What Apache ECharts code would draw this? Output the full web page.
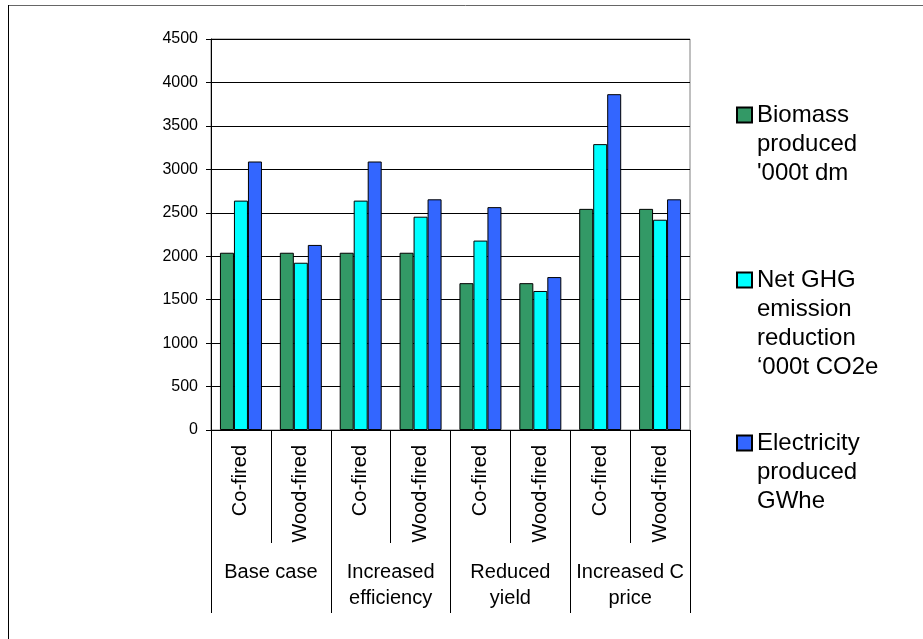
<!DOCTYPE html>
<html>
<head>
<meta charset="utf-8">
<script src="https://cdn.jsdelivr.net/npm/echarts@6/dist/echarts.min.js"></script>
<style>
  html, body { margin: 0; padding: 0; background: #fff; }
  #chart { width: 923px; height: 639px; }
</style>
</head>
<body>
<div id="chart"></div>
<script>
// Plant type under each scenario (inner axis level)
const plantTypes = ['Co-fired', 'Wood-fired', 'Co-fired', 'Wood-fired',
                    'Co-fired', 'Wood-fired', 'Co-fired', 'Wood-fired'];
// Scenarios (outer axis level, two plant types each)
const scenarios = ['Base case', 'Increased\nefficiency', 'Reduced\nyield', 'Increased C\nprice'];

// Series values per plant type / scenario
const biomass      = [2040, 2040, 2040, 2040, 1690, 1690, 2545, 2545];
const ghgReduction = [2640, 1925, 2640, 2455, 2180, 1600, 3290, 2420];
const electricity  = [3090, 2130, 3090, 2655, 2565, 1760, 3865, 2655];

const seriesNames = [
  "Biomass\nproduced\n'000t dm",
  "Net GHG\nemission\nreduction\n\u2018000t CO2e",
  "Electricity\nproduced\nGWhe"
];
const seriesColors = ['#339966', '#00FFFF', '#3366FF'];

// Value axis range
const yMin = 0, yMax = 4500, yStep = 500;

const FONT = "'Liberation Sans', Arial, sans-serif";
const LEGEND_LINE = 29;

const chart = echarts.init(document.getElementById('chart'), null, { renderer: 'canvas' });

// One legend block per series so each can sit at its own height.
// Blank lines are prepended to each label so the icon (centred on the
// text block) lines up with the first line of the label.
const firstLineY = [115, 280, 443];
const legends = seriesNames.map((name, i) => {
  const lines = name.split('\n').length;
  return {
    data: [name],
    formatter: n => '\n'.repeat(lines - 1) + n,
    left: 736,
    top: firstLineY[i] - (lines - 0.5) * LEGEND_LINE,
    padding: 0,
    orient: 'vertical',
    icon: 'rect',
    itemWidth: 15,
    itemHeight: 15,
    itemGap: 0,
    selectedMode: false,
    textStyle: {
      fontFamily: FONT,
      fontSize: 24,
      lineHeight: LEGEND_LINE,
      color: '#000'
    }
  };
});

const values = [biomass, ghgReduction, electricity];

chart.setOption({
  animation: false,
  backgroundColor: '#fff',
  textStyle: { fontFamily: FONT },
  grid: {
    left: 211, right: 233, top: 39, bottom: 209,
    show: true, borderColor: '#808080', borderWidth: 1,
    backgroundColor: 'transparent'
  },
  legend: legends,
  xAxis: [
    {
      type: 'category',
      data: plantTypes,
      position: 'bottom',
      axisLine: { show: true, lineStyle: { color: '#000', width: 1 } },
      axisTick: { show: true, interval: 0, length: 113, lineStyle: { color: '#000', width: 1 } },
      axisLabel: {
        interval: 0, rotate: 90, margin: 15,
        fontFamily: FONT, fontSize: 20, color: '#000'
      },
      splitLine: { show: false }
    },
    {
      type: 'category',
      data: scenarios,
      position: 'bottom',
      axisLine: { show: false },
      axisTick: { show: true, interval: 0, length: 183, lineStyle: { color: '#000', width: 1 } },
      axisLabel: {
        interval: 0, margin: 129,
        fontFamily: FONT, fontSize: 20, lineHeight: 26, color: '#000'
      },
      splitLine: { show: false }
    }
  ],
  yAxis: {
    type: 'value',
    min: yMin, max: yMax, interval: yStep,
    axisLine: { show: true, lineStyle: { color: '#000', width: 1 } },
    axisTick: { show: true, length: 5, lineStyle: { color: '#000' } },
    axisLabel: {
      margin: 13, fontFamily: FONT, fontSize: 16, color: '#000',
      formatter: v => String(v)
    },
    splitLine: { show: true, lineStyle: { color: '#000', width: 1 } }
  },
  series: seriesNames.map((name, i) => ({
    name: name,
    type: 'bar',
    xAxisIndex: 0,
    data: values[i],
    barWidth: 14,
    barGap: '0%',
    itemStyle: { color: seriesColors[i], borderColor: '#000', borderWidth: 1 }
  })),
  graphic: [
    // outer frame of the figure
    { type: 'line', shape: { x1: 8, y1: 5.5, x2: 923, y2: 5.5 }, style: { stroke: '#666', lineWidth: 1 } },
    { type: 'line', shape: { x1: 8.5, y1: 5, x2: 8.5, y2: 639 }, style: { stroke: '#000', lineWidth: 1 } }
  ]
});
</script>
</body>
</html>
